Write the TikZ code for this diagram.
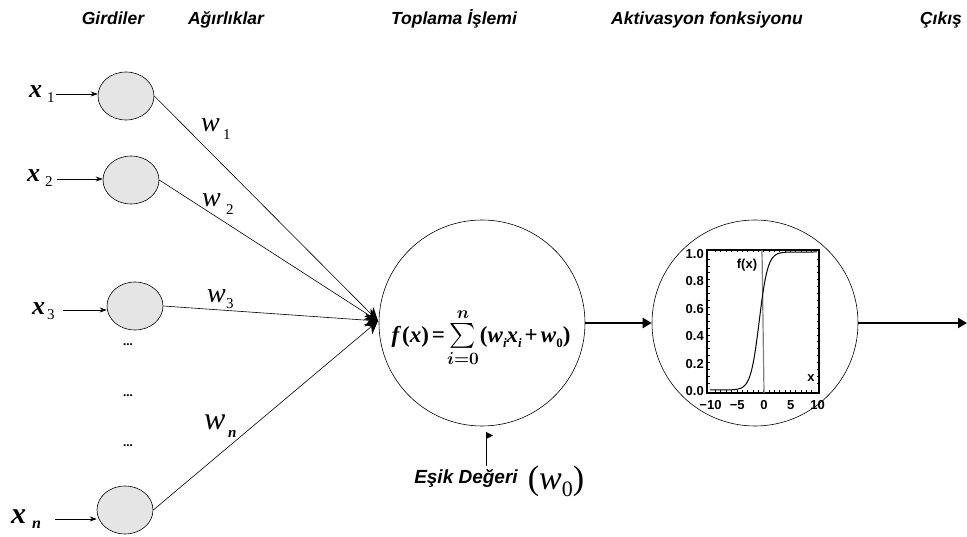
\documentclass[tikz,border=0pt]{standalone}
\usepackage{amsmath}
\usepackage{fontspec}
\newfontfamily\hel{Liberation Sans}
\newfontfamily\tms{Liberation Serif}
\usetikzlibrary{arrows.meta,shapes.geometric}
\newsavebox\formulabox
\newcommand\subi[1]{\lower5pt\hbox{\fontsize{13}{14}\selectfont #1}}
\begin{document}
\sbox\formulabox{\tms\bfseries\fontsize{23}{26}\selectfont\boldmath
  \textit{f}\kern1pt(\textit{x})\kern3pt=\kern2pt{\fontsize{27}{30}\selectfont$\textstyle\sum\limits_{i=0}^{n}$}\kern1pt(\textit{w}\subi{\textit{i}}\textit{x}\subi{\textit{i}}\kern3pt+\kern3pt\textit{w}\subi{0})}
\begin{tikzpicture}[x=1pt,y=-1pt,
  inp/.style={ellipse, draw, line width=0.6pt, fill=black!10, minimum width=56pt, minimum height=48pt, inner sep=0pt},
  bigcirc/.style={circle, draw, line width=0.6pt, minimum size=206pt, inner sep=0pt},
  title/.style={font=\hel\bfseries\itshape\fontsize{17.5}{20}\selectfont, anchor=base, inner sep=0pt},
  lab/.style={font=\tms, anchor=base west, inner sep=0pt},
  dots/.style={font=\tms\bfseries\fontsize{13}{14}\selectfont, inner sep=0pt},
  smallarr/.style={line width=0.6pt, -{Stealth[length=7pt,width=5pt]}},
  wline/.style={line width=0.6pt, -{Stealth[length=13pt,width=13pt]}},
  bigarr/.style={line width=2.6pt, -{Triangle[length=9pt,width=10pt]}},
  tick/.style={font=\hel\bfseries\fontsize{13}{14}\selectfont, inner sep=0pt}
]
\useasboundingbox (0,0) rectangle (967,537);

% titles
\node[title] (t1) at (113,25) {Girdiler};
\node[title] (t2) at (226,25) {Ağırlıklar};
\node[title] (t3) at (454,25) {Toplama İşlemi};
\node[title] (t4) at (707,25) {Aktivasyon fonksiyonu};
\node[title] (t5) at (941,25) {Çıkış};

% input neurons
\node[inp] (i1) at (126,96) {};
\node[inp] (i2) at (131,180) {};
\node[inp] (i3) at (135,306) {};
\node[inp] (in) at (125,510) {};

% input labels
\node[lab] (lx1) at (29,98) {{\bfseries\itshape\fontsize{26}{28}\selectfont x}};
\node[lab] (lx1s) at (47,103) {\fontsize{15}{16}\selectfont 1};
\node[lab] (lx2) at (27,182) {{\bfseries\itshape\fontsize{26}{28}\selectfont x}};
\node[lab] (lx2s) at (45,187) {\fontsize{15}{16}\selectfont 2};
\node[lab] (lx3) at (32,315) {{\bfseries\itshape\fontsize{26}{28}\selectfont x}};
\node[lab] (lx3s) at (47,320) {\fontsize{15}{16}\selectfont 3};
\node[lab] (lxn) at (11,523) {{\bfseries\itshape\fontsize{30}{32}\selectfont x}};
\node[lab] (lxns) at (32,528) {\bfseries\itshape\fontsize{16}{17}\selectfont n};

\coordinate (a1) at (56,94);
\coordinate (a2) at (57,179);
\coordinate (a3) at (63,310);
\coordinate (an) at (55,519);
\draw[smallarr] (a1) -- (a1 -| i1.west);
\draw[smallarr] (a2) -- (a2 -| i2.west);
\draw[smallarr] (a3) -- (a3 -| i3.west);
\draw[smallarr] (an) -- (an -| in.west);

% dots
\node[dots] (d1) at (128,345) {...};
\node[dots] (d2) at (128,396) {...};
\node[dots] (d3) at (128,446) {...};

% summation neuron
\node[bigcirc] (sum) at (482,323) {};
\node[inner sep=0pt] (formula) at (481,338) {\usebox\formulabox};

% weight lines
\coordinate (c) at (378,321);
\draw[wline] (i1.east) -- (c);
\draw[wline] (i2.east) -- (c);
\draw[wline] (i3.east) -- (c);
\draw[wline] (in.east) -- (c);

% weight labels
\node[lab] (w1) at (201,132) {{\itshape\fontsize{28}{30}\selectfont w}};
\node[lab] (w1s) at (223,140) {\fontsize{15}{16}\selectfont 1};
\node[lab] (w2) at (202,207) {{\itshape\fontsize{28}{30}\selectfont w}};
\node[lab] (w2s) at (226,215) {\fontsize{15}{16}\selectfont 2};
\node[lab] (w3) at (207,303) {{\itshape\fontsize{28}{30}\selectfont w}};
\node[lab] (w3s) at (226,309) {\fontsize{15}{16}\selectfont 3};
\node[lab] (wn) at (204,429) {{\itshape\fontsize{32}{34}\selectfont w}};
\node[lab] (wns) at (228,437) {\bfseries\itshape\fontsize{15}{16}\selectfont n};

% activation neuron
\node[bigcirc] (act) at (755,323) {};
\draw[bigarr] (sum.east) -- (act.west);
\coordinate (out) at (967,323);
\draw[bigarr] (act.east) -- (out);

% plot
\draw[line width=1.3pt] (707,250) rectangle (819,393);
\foreach \i in {-9,...,9} {
  \draw[line width=0.5pt] ({763.5+5.35*\i},250) -- ++(0,2.5);
  \draw[line width=0.5pt] ({763.5+5.35*\i},393) -- ++(0,-2.5);
}
\foreach \j in {1,...,19} {
  \draw[line width=0.5pt] (707,{390-6.9*\j}) -- ++(2.5,0);
  \draw[line width=0.5pt] (819,{390-6.9*\j}) -- ++(-2.5,0);
}
\draw[gray, line width=1.2pt] (762,250) -- (764,393);
\draw[line width=1pt] (710,390) -- ({763.5+5.35*(-8)},390)
  plot[domain=-8:9, samples=90] ({763.5+5.35*\x},{390-138/(1+exp(-1.25*(\x+0.8)))})
  -- (817,252);
\foreach \v/\t in {0/0.0,0.2/0.2,0.4/0.4,0.6/0.6,0.8/0.8,1/1.0}
  \node[tick, anchor=east] at (704,{391-137*\v}) {\t};
\foreach \v/\t in {-10/−10,-5/−5,0/0,5/5,10/10}
  \node[tick] at ({764+5.35*\v},405) {\t};
\node[tick] (fx) at (747,265) {f(x)};
\node[tick] (xx) at (811,378) {x};

% threshold
\node[font=\hel\bfseries\itshape\fontsize{19}{22}\selectfont, inner sep=0pt] (esik) at (466,478) {Eşik Değeri};
\node[font=\tms, inner sep=0pt] (w0) at (556,481) {\fontsize{34}{36}\selectfont(\textit{w}\raisebox{-7pt}{\fontsize{22}{24}\selectfont 0})};
\coordinate (t0) at (486,466);
\coordinate (t1) at (486,432);
\draw[line width=0.7pt] (t0) -- (t1);
\fill (t1) -- ++(7,3.5) -- ++(-7,3.5) -- cycle;
\end{tikzpicture}
\end{document}
